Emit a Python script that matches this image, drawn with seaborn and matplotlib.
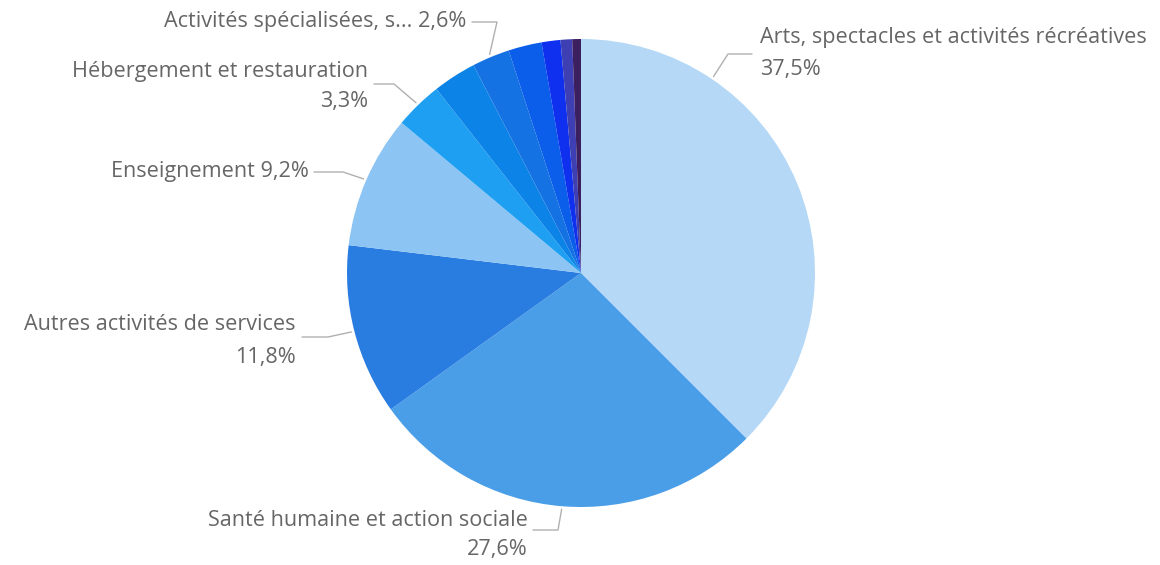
import numpy as np
import matplotlib
matplotlib.use("Agg")
import matplotlib.pyplot as plt
import seaborn as sns

# Slice data (clockwise from 12 o'clock)
categories = [
    "Arts, spectacles et activités récréatives",
    "Santé humaine et action sociale",
    "Autres activités de services",
    "Enseignement",
    "Hébergement et restauration",
    "Autre secteur 1",
    "Activités spécialisées, s...",
    "Autre secteur 2",
    "Autre secteur 3",
    "Autre secteur 4",
    "Autre secteur 5",
]
shares = [37.5, 27.6, 11.8, 9.2, 3.3, 3.0, 2.6, 2.3, 1.3, 0.8, 0.6]
colors = ["#B5D8F6", "#4A9EE8", "#2A7DE0", "#8CC4F4", "#1E9FF1", "#0C84E7",
          "#1572E2", "#0A5EE9", "#0F30EF", "#3D3FB3", "#3B1F5E"]

sns.set_style("white")
plt.rcParams["font.family"] = ["Open Sans", "DejaVu Sans"]

W, H = 1160, 565
fig = plt.figure(figsize=(W / 100, H / 100), dpi=100)
ax = fig.add_axes([0, 0, 1, 1])

cx, cy, R = 581, H - 273, 234
wedges, _ = ax.pie(shares, colors=colors, startangle=90, counterclock=False,
                   center=(cx, cy), radius=R, wedgeprops=dict(linewidth=0))
ax.set_xlim(0, W)
ax.set_ylim(0, H)
ax.set_aspect("equal")
ax.axis("off")

txt_col = "#666666"
line_col = "#B0B0B0"
fs = 15.6


def fmt(v):
    return f"{v:.1f}%".replace(".", ",")


# label layout: (slice index, anchor angle override, elbow, line end, text x, ha, [(text, y)])
labels = [
    (0, 56, (728, 54), (752, 54), 760, "left",
     [(categories[0], 38), (fmt(shares[0]), 70)]),
    (6, None, (497, 22), (472, 22), 466, "right",
     [(categories[6] + " " + fmt(shares[6]), 22)]),
    (4, None, (394, 84), (374, 84), 368, "right",
     [(categories[4], 72), (fmt(shares[4]), 102)]),
    (3, None, (343, 172), (314, 172), 309, "right",
     [(categories[3] + " " + fmt(shares[3]), 172)]),
    (2, None, (328, 337), (302, 337), 296, "right",
     [(categories[2], 325), (fmt(shares[2]), 357)]),
    (1, None, (558, 530), (533, 530), 528, "right",
     [(categories[1], 521), (fmt(shares[1]), 550)]),
]

for idx, ang, elbow, end, tx, ha, lines in labels:
    w = wedges[idx]
    if ang is None:
        ang = (w.theta1 + w.theta2) / 2
    a = np.deg2rad(ang)
    ax0 = cx + (R + 3) * np.cos(a)
    ay0 = cy + (R + 3) * np.sin(a)
    ax.plot([ax0, elbow[0], end[0]], [ay0, H - elbow[1], H - end[1]],
            color=line_col, lw=1)
    for s, ty in lines:
        ax.text(tx, H - ty, s, ha=ha, va="center", color=txt_col, fontsize=fs)

fig.savefig("out.png", dpi=100, facecolor="white")
